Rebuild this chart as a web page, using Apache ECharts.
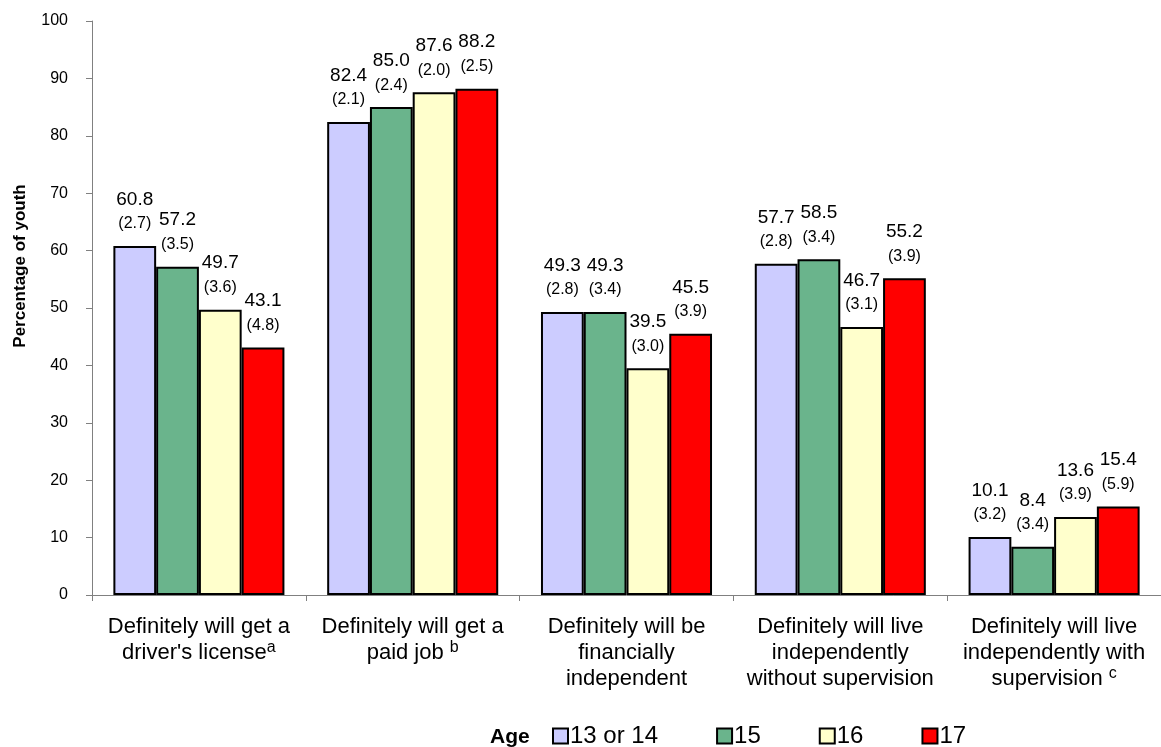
<!DOCTYPE html>
<html>
<head>
<meta charset="utf-8">
<script src="https://cdn.jsdelivr.net/npm/echarts@6/dist/echarts.min.js"></script>
<style>html,body{margin:0;padding:0;background:#fff}#c{width:1161px;height:747px}</style>
</head>
<body>
<div id="c"></div>
<script>
const categories = [
  "Definitely will get a\ndriver's license{sup|a}",
  "Definitely will get a\npaid job {sup|b}",
  "Definitely will be\nfinancially\nindependent",
  "Definitely will live\nindependently\nwithout supervision",
  "Definitely will live\nindependently with\nsupervision {sup|c}"
];
const seriesNames = ["13 or 14", "15", "16", "17"];
const age13or14 = [60.8, 82.4, 49.3, 57.7, 10.1];
const age15 = [57.2, 85.0, 49.3, 58.5, 8.4];
const age16 = [49.7, 87.6, 39.5, 46.7, 13.6];
const age17 = [43.1, 88.2, 45.5, 55.2, 15.4];
const se13or14 = ["2.7", "2.1", "2.8", "2.8", "3.2"];
const se15 = ["3.5", "2.4", "3.4", "3.4", "3.4"];
const se16 = ["3.6", "2.0", "3.0", "3.1", "3.9"];
const se17 = ["4.8", "2.5", "3.9", "3.9", "5.9"];
const yTicks = [0, 10, 20, 30, 40, 50, 60, 70, 80, 90, 100];
const yTitle = "Percentage of youth";
const legendTitle = "Age";

const colors = ["#CCCCFF", "#6AB48C", "#FFFFCC", "#FF0000"];
const values = [age13or14, age15, age16, age17];
const ses = [se13or14, se15, se16, se17];
const FF = 'Liberation Sans, Arial, sans-serif';

const chart = echarts.init(document.getElementById('c'));
const series = seriesNames.map((name, i) => ({
  name: name,
  type: 'bar',
  data: values[i],
  barGap: '0%',
  barCategoryGap: '20%',
  itemStyle: { color: colors[i], borderColor: '#000', borderWidth: 2 },
  label: {
    show: true,
    position: 'top',
    distance: 11,
    formatter: p => '{v|' + p.value.toFixed(1) + '}\n{e|(' + ses[i][p.dataIndex] + ')}',
    rich: {
      v: { fontSize: 19, lineHeight: 27, color: '#000', fontFamily: FF },
      e: { fontSize: 16, lineHeight: 22, color: '#000', fontFamily: FF }
    }
  }
}));

chart.setOption({
  animation: false,
  backgroundColor: '#fff',
  textStyle: { fontFamily: FF, color: '#000' },
  grid: { left: 92, top: 21, width: 1075, height: 574, containLabel: false },
  xAxis: {
    type: 'category',
    data: categories,
    axisLine: { lineStyle: { color: '#808080', width: 1 } },
    axisTick: { show: true, length: 6, lineStyle: { color: '#808080' } },
    axisLabel: {
      interval: 0,
      margin: 19,
      color: '#000',
      fontSize: 22,
      lineHeight: 26,
      fontFamily: FF,
      rich: { sup: { fontSize: 16, verticalAlign: 'top', lineHeight: 14, padding: [0, 0, 12, 0], color: '#000', fontFamily: FF } }
    }
  },
  yAxis: {
    type: 'value',
    min: 0, max: 100, interval: 10,
    axisLine: { show: true, lineStyle: { color: '#808080', width: 1 } },
    axisTick: { show: true, length: 6, lineStyle: { color: '#808080' } },
    splitLine: { show: false },
    axisLabel: { color: '#000', fontSize: 16, margin: 24, fontFamily: FF, formatter: v => yTicks.includes(v) ? String(v) : '' }
  },
  legend: {
    bottom: -6,
    left: 547,
    itemWidth: 15,
    itemHeight: 15,
    itemGap: 58,
    icon: 'rect',
    textStyle: { fontSize: 24, color: '#000', fontFamily: FF, padding: [0, 0, 0, -3] },
    data: seriesNames
  },
  graphic: [{
    type: 'text',
    left: 490,
    bottom: -1,
    style: { text: legendTitle, font: 'bold 21px Liberation Sans, Arial, sans-serif', fill: '#000' }
  }, {
    type: 'text',
    x: 20,
    y: 266,
    rotation: Math.PI / 2,
    style: { text: yTitle, font: 'bold 17px Liberation Sans, Arial, sans-serif', fill: '#000', align: 'center', verticalAlign: 'middle' }
  }],
  series: series
});
</script>
</body>
</html>
